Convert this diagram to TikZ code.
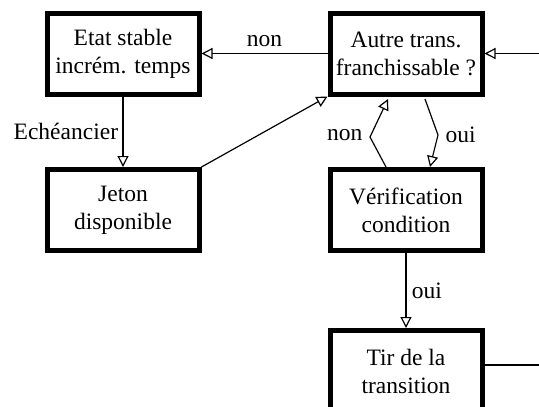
\documentclass[tikz,border=0pt]{standalone}
\usepackage{fontspec}
\setmainfont{Liberation Serif}
\usetikzlibrary{arrows.meta}

\tikzset{
  etape/.style={draw, line width=5pt, minimum width=152pt, minimum height=81pt, align=center, inner sep=0pt},
  fleche/.style={line width=1.2pt, -{Triangle[open, length=11pt, width=11pt, line width=1.2pt]}},
  lien/.style={line width=1.2pt}
}

\begin{document}
\begin{tikzpicture}[x=1pt, y=-1pt, font=\fontsize{23.5}{28}\selectfont]
\useasboundingbox (0,0) rectangle (539,407);
\clip (0,0) rectangle (539,407);

\node[etape] (etat) at (123,53.5) {Etat stable\\incrém. temps};
\node[etape] (jeton) at (123,210) {Jeton\\disponible};
\node[etape] (autre) at (406,53.5) {Autre trans.\\franchissable ?};
\node[etape] (verif) at (406,210) {Vérification\\condition};
\node[etape] (tir) at (406,371) {Tir de la\\transition};

\coordinate (entree) at (539,53.5);
\coordinate (sortie) at (539,365);
\coordinate (nonA) at (386,167);
\coordinate (nonB) at (370,137);
\coordinate (nonC) at (388,99);
\coordinate (ouiA) at (425,99);
\coordinate (ouiB) at (438,135);
\coordinate (ouiC) at (430,167);

\draw[fleche] (autre.west) -- node[above=3pt] {non} (etat.east);
\draw[fleche] (etat.south) -- node[left=1pt] {Echéancier} (jeton.north);
\draw[fleche] (jeton.north east) -- (autre.south west);
\draw[fleche] (nonA) -- (nonB) -- (nonC);
\node[anchor=east] (lnon) at (366,135) {non};
\draw[fleche] (ouiA) -- (ouiB) -- (ouiC);
\node[anchor=west] (loui) at (442,135) {oui};
\draw[fleche] (verif.south) -- node[right=2pt] {oui} (tir.north);
\draw[fleche] (entree) -- (autre.east);
\draw[lien] (tir.east |- sortie) -- (sortie);

\end{tikzpicture}
\end{document}
